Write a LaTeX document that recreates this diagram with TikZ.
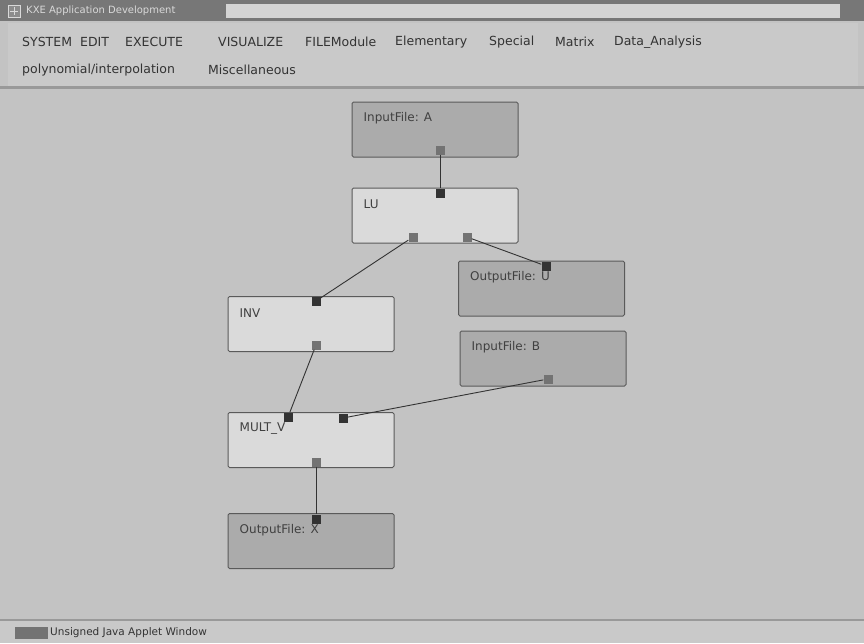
\documentclass[tikz,border=0pt]{standalone}
\usepackage{fontspec}
\setmainfont{DejaVu Sans}
\usetikzlibrary{positioning}

\definecolor{canvas}{HTML}{C3C3C3}
\definecolor{panel}{HTML}{C9C9C9}
\definecolor{titlebar}{HTML}{777777}
\definecolor{filebox}{HTML}{ABABAB}
\definecolor{opbox}{HTML}{DADADA}
\definecolor{edge}{HTML}{5A5A5A}

\begin{document}
\begin{tikzpicture}[x=1pt, y=-1pt,
    box/.style={draw=edge, line width=1pt, rounded corners=1.5pt,
      minimum width=166pt, minimum height=55pt, inner sep=0pt},
    filenode/.style={box, fill=filebox},
    opnode/.style={box, fill=opbox},
    inport/.style={fill=black!80, minimum size=9pt, inner sep=0pt},
    outport/.style={fill=black!55, minimum size=9pt, inner sep=0pt},
    lbl/.style={anchor=west, font=\fontsize{12}{14}\selectfont, text=black!75, inner sep=0pt},
    menu/.style={anchor=west, font=\fontsize{12.5}{14}\selectfont, text=black!80, inner sep=0pt},
    wire/.style={draw=black!80, line width=0.9pt}]
  \useasboundingbox (0,0) rectangle (864,643);
  \fill[canvas] (0,0) rectangle (864,643);

  % window title and menus
  \fill[titlebar] (0,0) rectangle (864,21);
  \fill[black!17] (226,4) rectangle (840,18);
  \draw[white!85!black, fill=black!45] (8,5) rectangle (20,17);
  \draw[white!85!black] (14,7) -- (14,15) (10,11) -- (18,11);
  \node[anchor=west, font=\fontsize{10}{12}\selectfont, text=white!85!black, inner sep=0pt]
    (title) at (26,11) {KXE Application Development};
  \fill[panel] (8,23) rectangle (858,86);
  \fill[black!40] (0,86) rectangle (864,89);
  \foreach \x/\word in {22/SYSTEM, 80/EDIT, 125/EXECUTE, 218/VISUALIZE, 305/FILEModule,
                         395/Elementary, 489/Special, 555/Matrix, 614/Data\_Analysis} {
    \node[menu] at (\x,42) {\word};
  }
  \node[menu] (poly) at (22,70) {polynomial/interpolation};
  \node[menu] (misc) at (208,70) {Miscellaneous};

  % status bar
  \fill[black!40] (0,619) rectangle (864,621);
  \fill[panel] (0,621) rectangle (864,643);
  \fill[black!55] (15,627) rectangle (48,639);
  \node[anchor=west, font=\fontsize{10.5}{12}\selectfont, text=black!80, inner sep=0pt]
    (status) at (50,633) {Unsigned Java Applet Window};

  % modules
  \node[filenode] (ina)  at (435,129.5) {};
  \node[opnode]   (lu)   at (435,215.5) {};
  \node[filenode] (outu) at (541.5,288.5) {};
  \node[opnode]   (inv)  at (311,324) {};
  \node[filenode] (inb)  at (543,358.5) {};
  \node[opnode]   (mult) at (311,440) {};
  \node[filenode] (outx) at (311,541) {};

  \node[lbl] at ([shift={(12,17)}]ina.north west)  {InputFile: A};
  \node[lbl] at ([shift={(12,17)}]lu.north west)   {LU};
  \node[lbl] at ([shift={(12,17)}]outu.north west) {OutputFile: U};
  \node[lbl] at ([shift={(12,17)}]inv.north west)  {INV};
  \node[lbl] at ([shift={(12,17)}]inb.north west)  {InputFile: B};
  \node[lbl] at ([shift={(12,17)}]mult.north west) {MULT\_V};
  \node[lbl] at ([shift={(12,17)}]outx.north west) {OutputFile: X};

  % ports
  \node[outport] (ina-o)   at (440,150) {};
  \node[inport]  (lu-i)    at (440,193) {};
  \node[outport] (lu-o1)   at (413,237) {};
  \node[outport] (lu-o2)   at (467,237) {};
  \node[inport]  (outu-i)  at (546,266) {};
  \node[inport]  (inv-i)   at (316,301) {};
  \node[outport] (inv-o)   at (316,345) {};
  \node[outport] (inb-o)   at (548,379) {};
  \node[inport]  (mult-i1) at (288,417) {};
  \node[inport]  (mult-i2) at (343,418) {};
  \node[outport] (mult-o)  at (316,462) {};
  \node[inport]  (outx-i)  at (316,519) {};

  % wires
  \draw[wire] (ina-o) -- (lu-i);
  \draw[wire] (lu-o1) -- (inv-i);
  \draw[wire] (lu-o2) -- (outu-i);
  \draw[wire] (inv-o) -- (mult-i1);
  \draw[wire] (inb-o) -- (mult-i2);
  \draw[wire] (mult-o) -- (outx-i);
\end{tikzpicture}
\end{document}
